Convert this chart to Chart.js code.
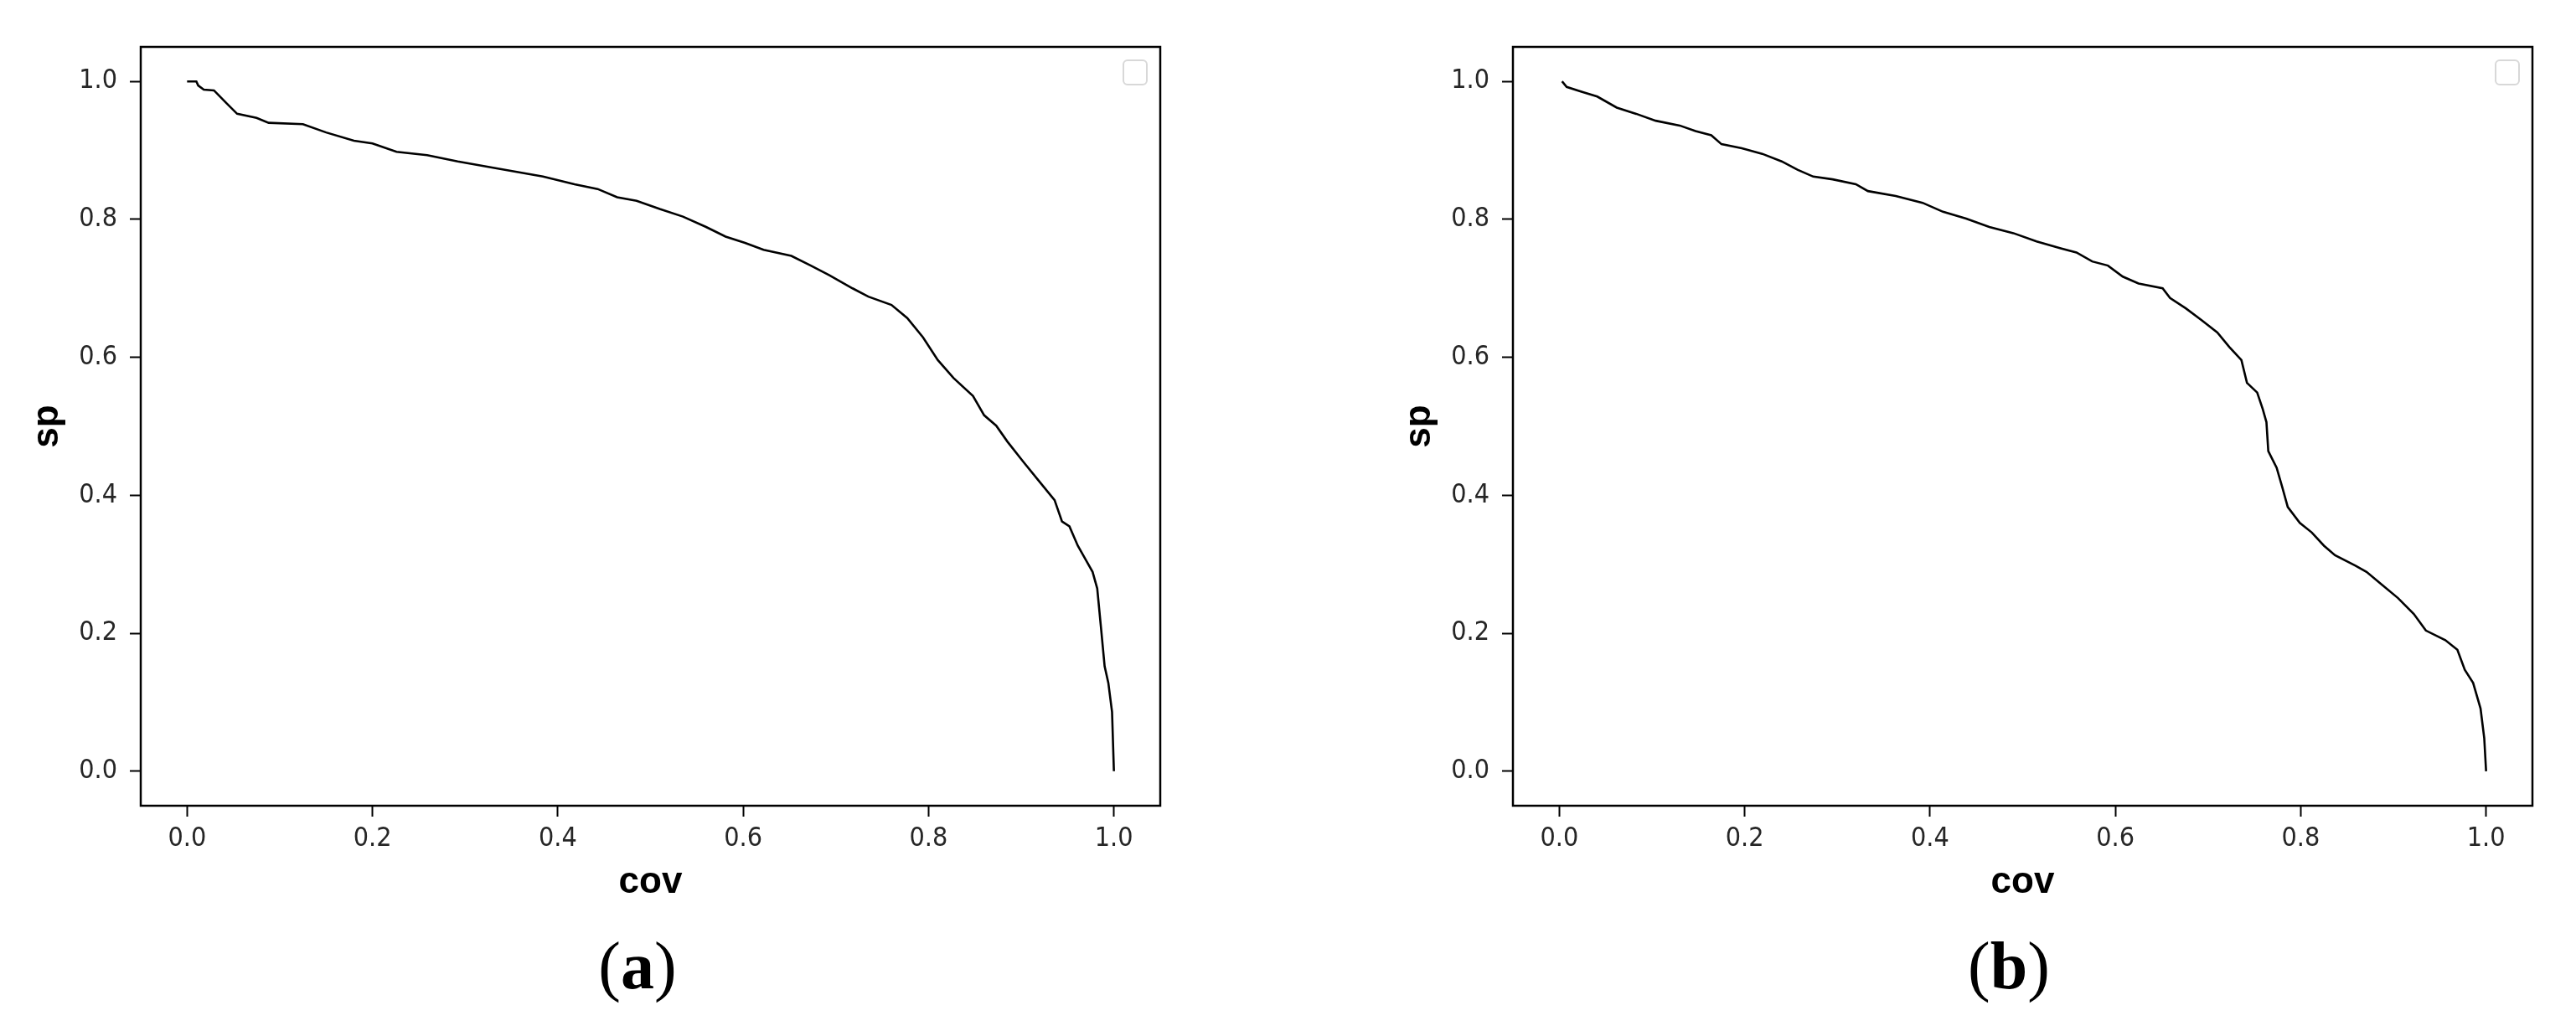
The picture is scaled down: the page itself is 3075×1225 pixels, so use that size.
<!DOCTYPE html>
<html>
<head>
<meta charset="utf-8">
<script src="https://cdn.jsdelivr.net/npm/chart.js@4.4.0/dist/chart.umd.min.js"></script>
<style>
  body { margin: 0; background: #fff; width: 3075px; height: 1225px; position: relative; overflow: hidden; }
  canvas { position: absolute; top: 0; }
  .caption {
    position: absolute; top: 1153px; transform: translate(-50%, -50%);
    font-family: "Liberation Serif", serif; font-size: 80px; line-height: 1; color: #000;
  }
  .caption span { font-weight: normal; }
</style>
</head>
<body>
<canvas id="chartA" width="1420" height="1090" style="left:0px"></canvas>
<canvas id="chartB" width="1420" height="1090" style="left:1638px"></canvas>
<div class="caption" style="left:761px"><span>(</span><b>a</b><span>)</span></div>
<div class="caption" style="left:2398px"><span>(</span><b>b</b><span>)</span></div>
<script>
// panel (a)
var covA = [0, 0.010, 0.012, 0.018, 0.029, 0.042, 0.054, 0.075, 0.088, 0.125, 0.150, 0.180, 0.200,
  0.226, 0.259, 0.292, 0.334, 0.384, 0.418, 0.443, 0.464, 0.485, 0.510, 0.535, 0.560, 0.581,
  0.602, 0.622, 0.652, 0.673, 0.693, 0.718, 0.735, 0.760, 0.777, 0.794, 0.810, 0.827, 0.848,
  0.860, 0.873, 0.885, 0.902, 0.919, 0.936, 0.944, 0.952, 0.961, 0.969, 0.977, 0.982, 0.986,
  0.990, 0.994, 0.998, 1.0];
var spA = [1.0, 1.0, 0.994, 0.988, 0.987, 0.969, 0.953, 0.947, 0.940, 0.938, 0.926, 0.914, 0.910,
  0.898, 0.893, 0.884, 0.874, 0.862, 0.851, 0.844, 0.832, 0.827, 0.815, 0.804, 0.789, 0.775,
  0.766, 0.756, 0.747, 0.733, 0.719, 0.700, 0.688, 0.676, 0.657, 0.629, 0.596, 0.570, 0.544,
  0.516, 0.501, 0.478, 0.449, 0.421, 0.393, 0.362, 0.355, 0.327, 0.308, 0.289, 0.265, 0.209,
  0.152, 0.128, 0.086, 0.0];

// panel (b)
var covB = [0.003, 0.008, 0.024, 0.041, 0.062, 0.083, 0.104, 0.130, 0.147, 0.164, 0.175, 0.197,
  0.219, 0.240, 0.257, 0.274, 0.295, 0.320, 0.333, 0.363, 0.392, 0.414, 0.439, 0.464, 0.490,
  0.515, 0.541, 0.558, 0.575, 0.592, 0.608, 0.625, 0.651, 0.659, 0.676, 0.693, 0.710, 0.723,
  0.736, 0.742, 0.753, 0.759, 0.763, 0.765, 0.774, 0.780, 0.786, 0.799, 0.812, 0.825, 0.837,
  0.859, 0.871, 0.888, 0.905, 0.922, 0.935, 0.956, 0.969, 0.977, 0.986, 0.994, 0.998, 1.0];
var spB = [1.0, 0.992, 0.985, 0.978, 0.962, 0.953, 0.943, 0.936, 0.928, 0.922, 0.909, 0.903,
  0.895, 0.884, 0.872, 0.862, 0.858, 0.851, 0.841, 0.834, 0.824, 0.811, 0.801, 0.789, 0.780,
  0.768, 0.758, 0.752, 0.739, 0.733, 0.717, 0.707, 0.700, 0.686, 0.671, 0.654, 0.636, 0.615,
  0.596, 0.563, 0.549, 0.525, 0.506, 0.464, 0.440, 0.412, 0.383, 0.360, 0.346, 0.327, 0.313,
  0.298, 0.289, 0.270, 0.251, 0.228, 0.204, 0.190, 0.176, 0.147, 0.128, 0.091, 0.048, 0.0];

var xTicks = [0, 0.2, 0.4, 0.6, 0.8, 1.0];
var yTicks = [0, 0.2, 0.4, 0.6, 0.8, 1.0];
var xTitle = "cov";
var yTitle = "sp";

// frame round the plot + the empty legend box in the corner
var framePlugin = {
  id: "frame",
  afterDraw: function (chart) {
    var ctx = chart.ctx;
    var a = chart.chartArea;
    ctx.save();
    ctx.strokeStyle = "#000";
    ctx.lineWidth = 2.5;
    ctx.strokeRect(a.left, a.top, a.right - a.left, a.bottom - a.top);
    // empty legend
    ctx.strokeStyle = "#d8d8d8";
    ctx.lineWidth = 2;
    ctx.beginPath();
    ctx.roundRect(a.right - 44, a.top + 16, 28, 29, 5);
    ctx.stroke();
    ctx.restore();
  }
};

function makeChart(id, covs, sps) {
  var points = covs.map(function (c, i) {
    return { x: c, y: sps[i] };
  });

  var tickFont = { family: "'Liberation Sans Narrow', 'DejaVu Sans Condensed', sans-serif", size: 32 };
  var titleFont = { family: "'Liberation Sans', Arial, sans-serif", size: 44, weight: "bold", lineHeight: 1 };

  return new Chart(document.getElementById(id), {
    type: "line",
    data: {
      datasets: [{
        data: points,
        borderColor: "#000",
        borderWidth: 2.6,
        pointRadius: 0,
        tension: 0,
        fill: false
      }]
    },
    options: {
      responsive: false,
      animation: false,
      devicePixelRatio: 1,
      layout: { padding: { top: 56, right: 35, left: 0, bottom: 0 } },
      plugins: { legend: { display: false }, tooltip: { enabled: false } },
      scales: {
        x: {
          type: "linear",
          min: -0.05,
          max: 1.05,
          afterBuildTicks: function (scale) {
            scale.ticks = xTicks.map(function (v) { return { value: v }; });
          },
          afterFit: function (scale) { scale.height = 128; },
          border: { display: false },
          grid: { drawOnChartArea: false, drawTicks: true, tickLength: 13, tickWidth: 2, tickColor: "#000" },
          ticks: {
            color: "#262626",
            font: tickFont,
            padding: 7,
            maxRotation: 0,
            callback: function (v) { return v.toFixed(1); }
          },
          title: { display: true, text: xTitle, color: "#000", font: titleFont, padding: { top: 0, bottom: 14 } }
        },
        y: {
          type: "linear",
          min: -0.05,
          max: 1.05,
          afterBuildTicks: function (scale) {
            scale.ticks = yTicks.map(function (v) { return { value: v }; });
          },
          afterFit: function (scale) { scale.width = 168; },
          border: { display: false },
          grid: { drawOnChartArea: false, drawTicks: true, tickLength: 13, tickWidth: 2, tickColor: "#000" },
          ticks: {
            color: "#262626",
            font: tickFont,
            padding: 15,
            callback: function (v) { return v.toFixed(1); }
          },
          title: { display: true, text: yTitle, color: "#000", font: titleFont, padding: { top: 35, bottom: 0 } }
        }
      }
    },
    plugins: [framePlugin]
  });
}

makeChart("chartA", covA, spA);
makeChart("chartB", covB, spB);
</script>
</body>
</html>
